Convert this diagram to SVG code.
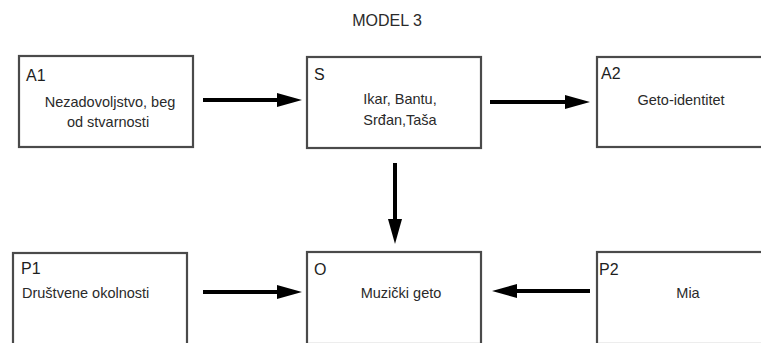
<svg xmlns="http://www.w3.org/2000/svg" width="761" height="343" viewBox="0 0 761 343">
  <style>
    .box { fill: #ffffff; stroke: #4a4a4a; stroke-width: 2.2; }
    .tag { font-family: "Liberation Sans", Arial, sans-serif; font-size: 16px; fill: #1e1e1e; }
    .txt { font-family: "Liberation Sans", Arial, sans-serif; font-size: 14.5px; fill: #2a2a2a; }
    .mid { text-anchor: middle; }
    .title { font-family: "Liberation Sans", Arial, sans-serif; font-size: 16px; fill: #2a2a2a; text-anchor: middle; }
    .arrow { fill: none; stroke: #000000; stroke-width: 4; marker-end: url(#head); }
  </style>
  <defs>
    <marker id="head" markerUnits="userSpaceOnUse" viewBox="0 0 25 14" refX="15" refY="7" markerWidth="25" markerHeight="14" orient="auto">
      <path d="M0,0 L25,7 L0,14 Z" fill="#000000"/>
    </marker>
  </defs>

  <rect width="761" height="343" fill="#ffffff"/>

  <text class="title" x="387" y="26">MODEL 3</text>

  <g id="A1">
    <rect class="box" x="19" y="56" width="174" height="91"/>
    <text class="tag" x="26" y="81">A1</text>
    <text class="txt mid" x="110" y="107">Nezadovoljstvo, beg</text>
    <text class="txt mid" x="108" y="127">od stvarnosti</text>
  </g>

  <g id="S">
    <rect class="box" x="307" y="57" width="174" height="91"/>
    <text class="tag" x="314" y="80">S</text>
    <text class="txt mid" x="400" y="104">Ikar, Bantu,</text>
    <text class="txt mid" x="400" y="125">Srđan,Taša</text>
  </g>

  <g id="A2">
    <rect class="box" x="597" y="57" width="174" height="90"/>
    <text class="tag" x="601" y="79">A2</text>
    <text class="txt mid" x="681" y="105">Geto-identitet</text>
  </g>

  <g id="P1">
    <rect class="box" x="13" y="253" width="174" height="92"/>
    <text class="tag" x="21" y="274">P1</text>
    <text class="txt" x="22" y="298">Društvene okolnosti</text>
  </g>

  <g id="O">
    <rect class="box" x="307" y="252" width="174" height="92"/>
    <text class="tag" x="314" y="275">O</text>
    <text class="txt mid" x="401" y="298">Muzički geto</text>
  </g>

  <g id="P2">
    <rect class="box" x="597" y="252" width="174" height="92"/>
    <text class="tag" x="599" y="275">P2</text>
    <text class="txt mid" x="688" y="298">Mia</text>
  </g>

  <g id="connectors">
    <path class="arrow" d="M203,100 H292"/>
    <path class="arrow" d="M490,102 H580"/>
    <path class="arrow" d="M395,163 V234"/>
    <path class="arrow" d="M203,292 H292"/>
    <path class="arrow" d="M590,291 H502"/>
  </g>
</svg>
